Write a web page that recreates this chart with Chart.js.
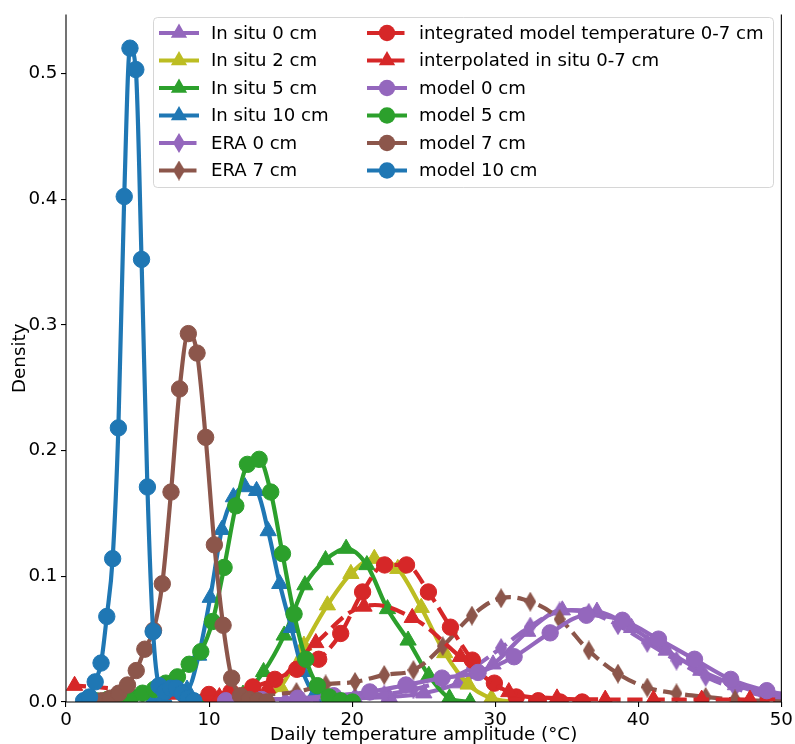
<!DOCTYPE html>
<html>
<head>
<meta charset="utf-8">
<script src="https://cdn.jsdelivr.net/npm/chart.js@4/dist/chart.umd.min.js"></script>
<style>
  html, body { margin: 0; padding: 0; background: #fff; }
  #wrap { width: 795px; height: 744px; }
</style>
</head>
<body>
<div id="wrap"><canvas id="c" width="795" height="744"></canvas></div>
<script>
// Axis ticks
const xTicks = [0, 10, 20, 30, 40, 50];
const yTicks = [0.0, 0.1, 0.2, 0.3, 0.4, 0.5];

// In situ observations
const inSitu0X = [15.33, 17.75, 20.17, 22.59, 25.01, 27.43, 29.85, 32.27, 34.69, 37.11, 39.53, 41.95, 44.37, 46.79, 49.21, 51.63];
const inSitu0Y = [0.001, 0.002, 0.003, 0.004, 0.007, 0.015, 0.030, 0.056, 0.073, 0.072, 0.059, 0.041, 0.025, 0.0135, 0.0056, 0.002];
const inSitu2X = [11.71, 13.35, 14.99, 16.63, 18.27, 19.91, 21.55, 23.19, 24.83, 26.47, 28.11, 29.74, 31.38];
const inSitu2Y = [0.000, 0.003, 0.012, 0.045, 0.077, 0.102, 0.114, 0.106, 0.075, 0.039, 0.014, 0.003, 0.000];
const inSitu5X = [9.48, 10.92, 12.37, 13.81, 15.25, 16.70, 18.14, 19.58, 21.03, 22.47, 23.91, 25.36, 26.80, 28.24];
const inSitu5Y = [0.000, 0.001, 0.006, 0.024, 0.053, 0.093, 0.113, 0.122, 0.109, 0.074, 0.049, 0.021, 0.003, 0.000];
const inSitu10X = [6.03, 6.84, 7.65, 8.46, 9.27, 10.08, 10.89, 11.70, 12.51, 13.32, 14.13, 14.94, 15.75, 16.56, 17.37, 18.18, 18.99];
const inSitu10Y = [0.001, 0.004, 0.010, 0.010, 0.037, 0.083, 0.137, 0.163, 0.171, 0.168, 0.136, 0.094, 0.059, 0.024, 0.006, 0.001, 0.000];

// ERA reanalysis
const eraX = [12.02, 14.07, 16.11, 18.15, 20.20, 22.24, 24.28, 26.33, 28.37, 30.41, 32.45, 34.50, 36.54, 38.58, 40.63, 42.67, 44.71, 46.76, 48.80, 50.84];
const era0Y = [0.000, 0.001, 0.002, 0.003, 0.004, 0.006, 0.010, 0.017, 0.027, 0.043, 0.060, 0.072, 0.071, 0.061, 0.047, 0.033, 0.020, 0.011, 0.005, 0.002];
const era7Y = [0.003, 0.006, 0.008, 0.014, 0.016, 0.0215, 0.0254, 0.0444, 0.0687, 0.0825, 0.0798, 0.0659, 0.041, 0.0226, 0.0115, 0.0069, 0.004, 0.002, 0.001, 0.000];

// 0-7 cm layer
const integratedX = [8.46, 9.99, 11.53, 13.06, 14.60, 16.13, 17.66, 19.20, 20.73, 22.27, 23.80, 25.33, 26.87, 28.40, 29.94, 31.47, 33.01, 34.54, 36.08];
const integratedY = [0.002, 0.006, 0.008, 0.012, 0.018, 0.026, 0.034, 0.0545, 0.0875, 0.109, 0.109, 0.0875, 0.0595, 0.0333, 0.015, 0.004, 0.001, 0.000, 0.000];
const interpX = [-2.77, 0.60, 3.97, 7.34, 10.72, 14.09, 17.46, 20.83, 24.20, 27.57, 30.95, 34.32, 37.69, 41.06, 44.43, 47.80, 51.17];
const interpY = [0.014, 0.013, 0.010, 0.006, 0.004, 0.011, 0.047, 0.076, 0.067, 0.036, 0.008, 0.003, 0.002, 0.002, 0.002, 0.002, 0.002];

// Model output
const model0X = [11.16, 13.67, 16.19, 18.71, 21.23, 23.76, 26.28, 28.80, 31.32, 33.84, 36.37, 38.89, 41.41, 43.93, 46.46, 48.98, 51.50];
const model0Y = [0.001, 0.002, 0.003, 0.005, 0.008, 0.0135, 0.019, 0.0235, 0.036, 0.055, 0.069, 0.065, 0.050, 0.034, 0.018, 0.009, 0.004];
const model5X = [2.08, 2.90, 3.72, 4.53, 5.35, 6.16, 6.98, 7.79, 8.61, 9.42, 10.24, 11.05, 11.87, 12.68, 13.50, 14.31, 15.13, 15.94, 16.76, 17.57, 18.39, 19.20, 20.02];
const model5Y = [0.001, 0.002, 0.003, 0.004, 0.007, 0.010, 0.015, 0.020, 0.030, 0.040, 0.064, 0.107, 0.156, 0.189, 0.193, 0.167, 0.118, 0.070, 0.034, 0.013, 0.004, 0.001, 0.000];
const model7X = [2.48, 3.09, 3.69, 4.30, 4.91, 5.51, 6.12, 6.73, 7.34, 7.94, 8.55, 9.16, 9.76, 10.37, 10.98, 11.58, 12.19, 12.80, 13.40, 14.01];
const model7Y = [0.001, 0.003, 0.007, 0.0135, 0.025, 0.042, 0.057, 0.094, 0.167, 0.249, 0.293, 0.2775, 0.2105, 0.125, 0.061, 0.019, 0.005, 0.002, 0.001, 0.000];
const model10X = [1.23, 1.64, 2.04, 2.45, 2.85, 3.26, 3.66, 4.07, 4.47, 4.88, 5.28, 5.69, 6.09, 6.50, 6.90, 7.31, 7.71, 8.12, 8.52, 8.93];
const model10Y = [0.001, 0.004, 0.016, 0.031, 0.068, 0.114, 0.218, 0.402, 0.520, 0.503, 0.352, 0.171, 0.056, 0.013, 0.008, 0.011, 0.011, 0.007, 0.003, 0.001];

const C = {
  purple: '#9467bd', olive: '#bcbd22', green: '#2ca02c',
  blue: '#1f77b4', brown: '#8c564b', red: '#d62728'
};
const FONT = '"DejaVu Sans", "Liberation Sans", sans-serif';
const FONT_SIZE = 18.3;
const LEGEND_FONT_SIZE = 18.1;
const LINE_W = 4.2;
const DASH = [15.4, 6.7];

// Thin diamond marker as an offscreen canvas
function thinDiamond(color) {
  const w = 12, h = 20;
  const cv = document.createElement('canvas');
  cv.width = w; cv.height = h;
  const g = cv.getContext('2d');
  g.fillStyle = color;
  g.beginPath();
  g.moveTo(w / 2, 0); g.lineTo(w, h / 2); g.lineTo(w / 2, h); g.lineTo(0, h / 2);
  g.closePath(); g.fill();
  return cv;
}

const series = [
  { label: 'In situ 0 cm',  x: inSitu0X,  y: inSitu0Y,  color: C.purple, marker: 'triangle', dashed: false },
  { label: 'In situ 2 cm',  x: inSitu2X,  y: inSitu2Y,  color: C.olive,  marker: 'triangle', dashed: false },
  { label: 'In situ 5 cm',  x: inSitu5X,  y: inSitu5Y,  color: C.green,  marker: 'triangle', dashed: false },
  { label: 'In situ 10 cm', x: inSitu10X, y: inSitu10Y, color: C.blue,   marker: 'triangle', dashed: false },
  { label: 'ERA 0 cm',      x: eraX,      y: era0Y,     color: C.purple, marker: 'diamond',  dashed: true, smooth: 'spline' },
  { label: 'ERA 7 cm',      x: eraX,      y: era7Y,     color: C.brown,  marker: 'diamond',  dashed: true, smooth: 'spline' },
  { label: 'integrated model temperature 0-7 cm', x: integratedX, y: integratedY, color: C.red, marker: 'circle', dashed: true },
  { label: 'interpolated in situ 0-7 cm', x: interpX, y: interpY, color: C.red, marker: 'triangle', dashed: true, smooth: 'spline' },
  { label: 'model 0 cm',    x: model0X,   y: model0Y,   color: C.purple, marker: 'circle', dashed: false },
  { label: 'model 5 cm',    x: model5X,   y: model5Y,   color: C.green,  marker: 'circle', dashed: false },
  { label: 'model 7 cm',    x: model7X,   y: model7Y,   color: C.brown,  marker: 'circle', dashed: false },
  { label: 'model 10 cm',   x: model10X,  y: model10Y,  color: C.blue,   marker: 'circle', dashed: false }
];

const RADIUS = { circle: 8.2, triangle: 9.4, diamond: 10 };

series.forEach(s => {
  s.style = s.marker === 'diamond' ? thinDiamond(s.color) : s.marker;
});

const datasets = series.map((s, i) => ({
  label: s.label,
  data: s.x.map((x, k) => ({ x: x, y: s.y[k] })),
  borderColor: s.color,
  backgroundColor: s.color,
  borderWidth: LINE_W,
  borderDash: s.dashed ? DASH : [],
  borderJoinStyle: 'round',
  borderCapStyle: 'butt',
  pointStyle: s.style,
  pointRadius: RADIUS[s.marker],
  pointBackgroundColor: s.color,
  pointBorderColor: s.color,
  pointBorderWidth: 1,
  cubicInterpolationMode: s.smooth === 'spline' ? 'default' : 'monotone',
  tension: 0.4,
  fill: false,
  clip: 0,
  order: series.length - i
}));

// Spines, axis titles and the two-column legend
const decorations = {
  id: 'decorations',
  afterDraw(chart) {
    const ctx = chart.ctx;
    const a = chart.chartArea;
    ctx.save();
    // spines: left, bottom, right
    ctx.strokeStyle = '#000';
    ctx.lineWidth = 1.1;
    ctx.beginPath();
    ctx.moveTo(a.left, a.top); ctx.lineTo(a.left, a.bottom);
    ctx.lineTo(a.right, a.bottom); ctx.lineTo(a.right, a.top);
    ctx.stroke();

    // axis titles
    ctx.fillStyle = '#000';
    ctx.font = FONT_SIZE + 'px ' + FONT;
    ctx.textAlign = 'center';
    ctx.textBaseline = 'middle';
    ctx.fillText('Daily temperature amplitude (°C)', (a.left + a.right) / 2, 735);
    ctx.save();
    ctx.translate(20, (a.top + a.bottom) / 2);
    ctx.rotate(-Math.PI / 2);
    ctx.fillText('Density', 0, 0);
    ctx.restore();

    // legend frame
    const bx = 153.5, by = 17.5, bw = 620, bh = 170, r = 4;
    ctx.beginPath();
    ctx.moveTo(bx + r, by);
    ctx.arcTo(bx + bw, by, bx + bw, by + bh, r);
    ctx.arcTo(bx + bw, by + bh, bx, by + bh, r);
    ctx.arcTo(bx, by + bh, bx, by, r);
    ctx.arcTo(bx, by, bx + bw, by, r);
    ctx.closePath();
    ctx.fillStyle = 'rgba(255,255,255,0.8)';
    ctx.fill();
    ctx.strokeStyle = 'rgba(204,204,204,0.8)';
    ctx.lineWidth = 1;
    ctx.stroke();

    const cols = [{ x0: 159, x1: 199, tx: 211 }, { x0: 367, x1: 407, tx: 419 }];
    const rowY0 = 33, rowStep = 27.5;
    series.forEach((s, i) => {
      const col = cols[i < 6 ? 0 : 1];
      const y = rowY0 + (i % 6) * rowStep;
      ctx.strokeStyle = s.color;
      ctx.lineWidth = LINE_W;
      ctx.lineCap = 'butt';
      ctx.setLineDash(s.dashed ? DASH : []);
      ctx.beginPath();
      ctx.moveTo(col.x0, y); ctx.lineTo(col.x1, y);
      ctx.stroke();
      ctx.setLineDash([]);
      const mx = (col.x0 + col.x1) / 2;
      ctx.fillStyle = s.color;
      if (s.marker === 'circle') {
        ctx.beginPath();
        ctx.arc(mx, y, RADIUS.circle, 0, Math.PI * 2);
        ctx.fill();
      } else if (s.marker === 'triangle') {
        const rr = RADIUS.triangle;
        ctx.beginPath();
        ctx.moveTo(mx, y - rr);
        ctx.lineTo(mx + rr * Math.sin(2 * Math.PI / 3), y - rr * Math.cos(2 * Math.PI / 3));
        ctx.lineTo(mx + rr * Math.sin(4 * Math.PI / 3), y - rr * Math.cos(4 * Math.PI / 3));
        ctx.closePath();
        ctx.fill();
      } else {
        ctx.drawImage(s.style, mx - s.style.width / 2, y - s.style.height / 2);
      }
      ctx.fillStyle = '#000';
      ctx.font = LEGEND_FONT_SIZE + 'px ' + FONT;
      ctx.textAlign = 'left';
      ctx.textBaseline = 'middle';
      ctx.fillText(s.label, col.tx, y + 1);
    });
    ctx.restore();
  }
};

new Chart(document.getElementById('c'), {
  type: 'line',
  data: { datasets: datasets },
  options: {
    responsive: false,
    animation: false,
    devicePixelRatio: 1,
    layout: { padding: { top: 13, right: 12, left: 0, bottom: 0 } },
    plugins: { legend: { display: false }, tooltip: { enabled: false } },
    scales: {
      x: {
        type: 'linear',
        min: 0, max: 50,
        afterBuildTicks: s => { s.ticks = xTicks.map(v => ({ value: v })); },
        afterFit: s => { s.height = 42; },
        border: { display: false },
        grid: { display: true, drawOnChartArea: false, drawTicks: true, tickLength: 5, color: '#000', lineWidth: 1.1 },
        ticks: { color: '#000', font: { family: FONT, size: FONT_SIZE }, padding: 2, maxRotation: 0, autoSkip: false,
                 callback: v => String(v) }
      },
      y: {
        type: 'linear',
        min: 0, max: 0.5468,
        afterBuildTicks: s => { s.ticks = yTicks.map(v => ({ value: v })); },
        afterFit: s => { s.width = 66; },
        border: { display: false },
        grid: { display: true, drawOnChartArea: false, drawTicks: true, tickLength: 5, color: '#000', lineWidth: 1.1 },
        ticks: { color: '#000', font: { family: FONT, size: FONT_SIZE }, padding: 3.5, autoSkip: false,
                 callback: v => Number(v).toFixed(1) }
      }
    }
  },
  plugins: [decorations]
});
</script>
</body>
</html>
